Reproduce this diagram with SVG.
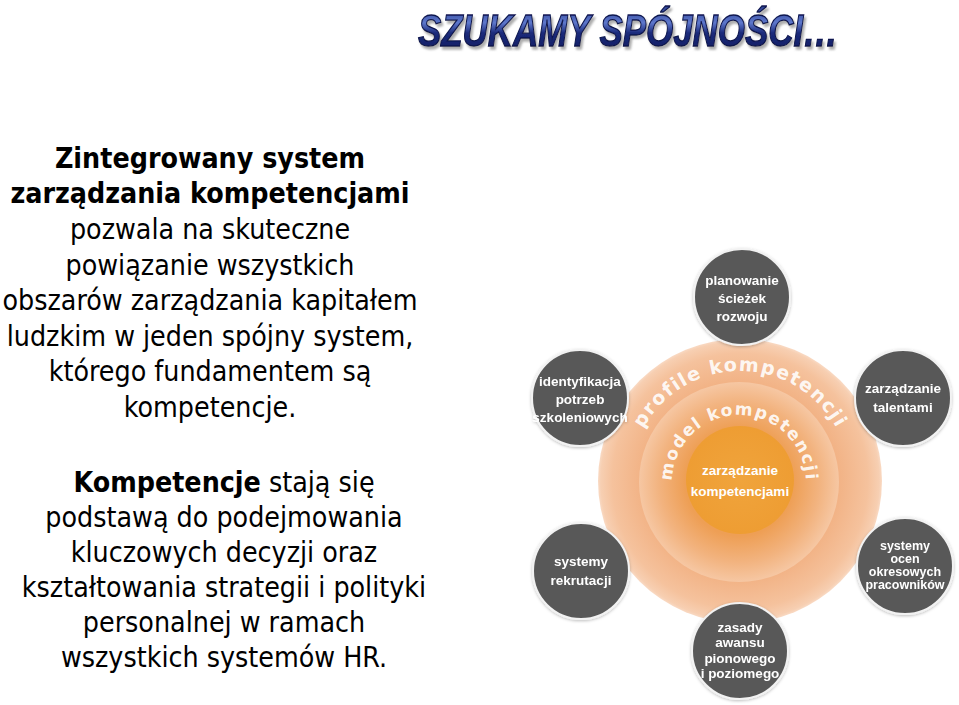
<svg xmlns="http://www.w3.org/2000/svg" width="959" height="705" viewBox="0 0 959 705">
<defs>
<style>
.p{font-family:"DejaVu Sans Condensed","DejaVu Sans",sans-serif;font-size:28.3px;fill:#000;text-anchor:middle}
.b{font-weight:bold}
.node circle{fill:#595959;stroke:#f2f2f2;stroke-width:2}
.node text{font-family:"Liberation Sans",Arial,sans-serif;font-weight:bold;font-size:13.5px;fill:#fff;text-anchor:middle}
.node text.s{font-size:12.5px}
.ring{font-family:"DejaVu Sans",sans-serif;font-weight:bold;fill:#fff;fill-opacity:0.9}
.ctr{font-family:"Liberation Sans",Arial,sans-serif;font-weight:bold;font-size:13.5px;fill:#fff;text-anchor:middle}
</style>
<radialGradient id="gOuter" cx="0.5" cy="0.5" r="0.5">
<stop offset="0.7" stop-color="#f2b386"/>
<stop offset="0.9" stop-color="#f5c29d"/>
<stop offset="0.98" stop-color="#f7cfb2"/>
<stop offset="1" stop-color="#f9dac4"/>
</radialGradient>
<radialGradient id="gMid" cx="0.5" cy="0.5" r="0.5">
<stop offset="0.54" stop-color="#ee9f55"/>
<stop offset="0.8" stop-color="#f2b37f"/>
<stop offset="1" stop-color="#f6c7a3"/>
</radialGradient>
<radialGradient id="gIn" cx="0.5" cy="0.5" r="0.5">
<stop offset="0" stop-color="#f0a43c"/>
<stop offset="1" stop-color="#ee9d33"/>
</radialGradient>
<linearGradient id="gTitle" x1="0" y1="0" x2="0" y2="1">
<stop offset="0" stop-color="#2b3d8f"/>
<stop offset="0.35" stop-color="#5e78cc"/>
<stop offset="0.55" stop-color="#1b2a7a"/>
<stop offset="1" stop-color="#101c5c"/>
</linearGradient>
<filter id="sh" x="-20%" y="-20%" width="140%" height="140%">
<feDropShadow dx="0" dy="1" stdDeviation="1.5" flood-color="#000" flood-opacity="0.25"/>
</filter>
<filter id="tsh" x="-5%" y="-20%" width="110%" height="150%">
<feDropShadow dx="2" dy="3" stdDeviation="1.2" flood-color="#777" flood-opacity="0.6"/>
</filter>
<path id="arcOuter" d="M 630 481 A 110 110 0 0 1 850 481"/>
<path id="arcMid" d="M 672 482 A 67 67 0 0 1 806 482"/>
</defs>
<rect width="959" height="705" fill="#fff"/>

<g id="title">
<text x="418" y="46" font-family="Liberation Sans,Arial,sans-serif" font-weight="bold" font-style="italic" font-size="45" textLength="420" lengthAdjust="spacingAndGlyphs" fill="url(#gTitle)" stroke="#0c154d" stroke-width="1.3" filter="url(#tsh)">SZUKAMY SPÓJNOŚCI…</text>
</g>

<g id="paragraph1">
<text class="p b" x="210" y="168">Zintegrowany system</text>
<text class="p b" x="210" y="203">zarządzania kompetencjami</text>
<text class="p" x="210" y="239">pozwala na skuteczne</text>
<text class="p" x="210" y="275">powiązanie wszystkich</text>
<text class="p" x="210" y="310">obszarów zarządzania kapitałem</text>
<text class="p" x="210" y="346">ludzkim w jeden spójny system,</text>
<text class="p" x="210" y="381">którego fundamentem są</text>
<text class="p" x="210" y="417">kompetencje.</text>
</g>

<g id="paragraph2">
<text class="p" x="224" y="492"><tspan class="b">Kompetencje</tspan> stają się</text>
<text class="p" x="224" y="527">podstawą do podejmowania</text>
<text class="p" x="224" y="562">kluczowych decyzji oraz</text>
<text class="p" x="224" y="597">kształtowania strategii i polityki</text>
<text class="p" x="224" y="632">personalnej w ramach</text>
<text class="p" x="224" y="667">wszystkich systemów HR.</text>
</g>

<g id="outer-ring">
<circle cx="740" cy="481" r="142" fill="url(#gOuter)"/>
<text class="ring" font-size="19" letter-spacing="1.5"><textPath href="#arcOuter" startOffset="50%" text-anchor="middle">profile kompetencji</textPath></text>
</g>
<g id="middle-ring">
<circle cx="739" cy="482" r="100" fill="url(#gMid)"/>
<text class="ring" font-size="17" letter-spacing="1.5"><textPath href="#arcMid" startOffset="50%" text-anchor="middle">model kompetencji</textPath></text>
</g>
<g id="center">
<circle cx="740" cy="480" r="54" fill="url(#gIn)"/>
<text class="ctr" x="740" y="475">zarządzanie</text>
<text class="ctr" x="740" y="496">kompetencjami</text>
</g>

<g id="n-planowanie" class="node" filter="url(#sh)">
<circle cx="742" cy="297" r="48"/>
<text x="742" y="285">planowanie</text>
<text x="742" y="303">ścieżek</text>
<text x="742" y="321">rozwoju</text>
</g>
<g id="n-identyfikacja" class="node" filter="url(#sh)">
<circle cx="580" cy="398" r="48"/>
<text x="580" y="386">identyfikacja</text>
<text x="580" y="404">potrzeb</text>
<text x="580" y="422">szkoleniowych</text>
</g>
<g id="n-talenty" class="node" filter="url(#sh)">
<circle cx="903" cy="398" r="48"/>
<text x="903" y="393">zarządzanie</text>
<text x="903" y="412">talentami</text>
</g>
<g id="n-rekrutacja" class="node" filter="url(#sh)">
<circle cx="581" cy="571" r="48"/>
<text x="581" y="566">systemy</text>
<text x="581" y="585">rekrutacji</text>
</g>
<g id="n-oceny" class="node" filter="url(#sh)">
<circle cx="905" cy="566" r="48"/>
<text class="s" x="905" y="550">systemy</text>
<text class="s" x="905" y="563">ocen</text>
<text class="s" x="905" y="576">okresowych</text>
<text class="s" x="905" y="589">pracowników</text>
</g>
<g id="n-awans" class="node" filter="url(#sh)">
<circle cx="740" cy="651" r="48"/>
<text x="740" y="632">zasady</text>
<text x="740" y="647">awansu</text>
<text x="740" y="663">pionowego</text>
<text x="740" y="678">i poziomego</text>
</g>
</svg>
